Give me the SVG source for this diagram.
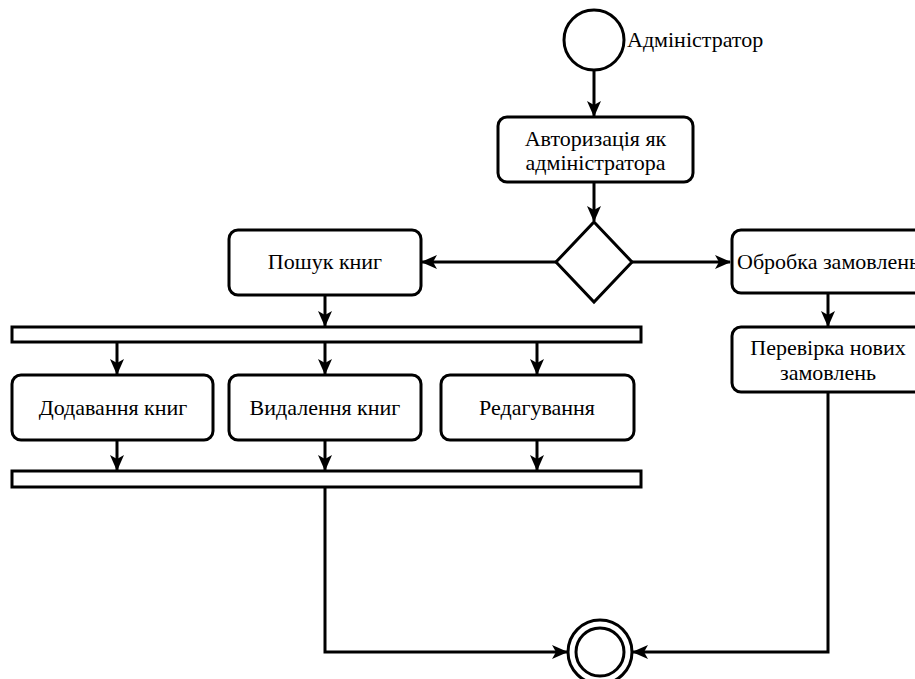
<svg xmlns="http://www.w3.org/2000/svg" width="915" height="679" viewBox="0 0 915 679">
<style>
.n{fill:#fff;stroke:#000;stroke-width:3}
.t{font-family:"Liberation Serif","Times New Roman",serif;font-size:22px;fill:#000;text-anchor:middle}
.c{fill:none;stroke:#000;stroke-width:3}
</style>
<defs>
<marker id="a" viewBox="0 0 16 14" refX="15" refY="7" markerWidth="16" markerHeight="14" orient="auto" markerUnits="userSpaceOnUse">
<path d="M0,0 L16,7 L0,14 L4,7 Z" fill="#000"/>
</marker>
</defs>
<rect width="915" height="679" fill="#fff"/>
<g id="connectors">
<path class="c" d="M594,70 V116" marker-end="url(#a)"/>
<path class="c" d="M594,182 V221" marker-end="url(#a)"/>
<path class="c" d="M556,262 H422" marker-end="url(#a)"/>
<path class="c" d="M632,262 H730" marker-end="url(#a)"/>
<path class="c" d="M325,295 V326" marker-end="url(#a)"/>
<path class="c" d="M828,293 V326" marker-end="url(#a)"/>
<path class="c" d="M117,342 V374" marker-end="url(#a)"/>
<path class="c" d="M325,342 V374" marker-end="url(#a)"/>
<path class="c" d="M537,342 V374" marker-end="url(#a)"/>
<path class="c" d="M117,440 V470" marker-end="url(#a)"/>
<path class="c" d="M325,440 V470" marker-end="url(#a)"/>
<path class="c" d="M537,440 V470" marker-end="url(#a)"/>
<path class="c" d="M325,487 V652 H567" marker-end="url(#a)"/>
<path class="c" d="M828,392 V652 H633" marker-end="url(#a)"/>
</g>
<g id="start">
<circle class="n" cx="594" cy="40" r="30"/>
<text x="627" y="47" style="font-family:'Liberation Serif','Times New Roman',serif;font-size:22px">Адміністратор</text>
</g>
<g id="auth">
<rect class="n" x="498" y="117" width="195" height="65" rx="9"/>
<text class="t" x="595.5" y="146">Авторизація як</text>
<text class="t" x="595.5" y="170">адміністратора</text>
</g>
<g id="decision">
<path class="n" d="M594,222 L632,262 L594,302 L556,262 Z"/>
</g>
<g id="search">
<rect class="n" x="229" y="230" width="192" height="65" rx="9"/>
<text class="t" x="325" y="269">Пошук книг</text>
</g>
<g id="orders">
<rect class="n" x="732" y="230" width="192" height="63" rx="9"/>
<text class="t" x="828" y="269">Обробка замовлень</text>
</g>
<g id="check">
<rect class="n" x="732" y="327" width="192" height="65" rx="9"/>
<text class="t" x="828" y="355">Перевірка нових</text>
<text class="t" x="828" y="380">замовлень</text>
</g>
<g id="fork">
<rect class="n" x="12" y="327" width="629" height="15"/>
</g>
<g id="add">
<rect class="n" x="12" y="375" width="201" height="65" rx="9"/>
<text class="t" x="113" y="415">Додавання книг</text>
</g>
<g id="delete">
<rect class="n" x="229" y="375" width="192" height="65" rx="9"/>
<text class="t" x="325" y="415">Видалення книг</text>
</g>
<g id="edit">
<rect class="n" x="441" y="375" width="193" height="65" rx="9"/>
<text class="t" x="537" y="415">Редагування</text>
</g>
<g id="join">
<rect class="n" x="12" y="471" width="629" height="16"/>
</g>
<g id="end">
<circle class="n" cx="600" cy="652" r="32"/>
<circle class="n" cx="600" cy="652" r="24"/>
</g>
</svg>
